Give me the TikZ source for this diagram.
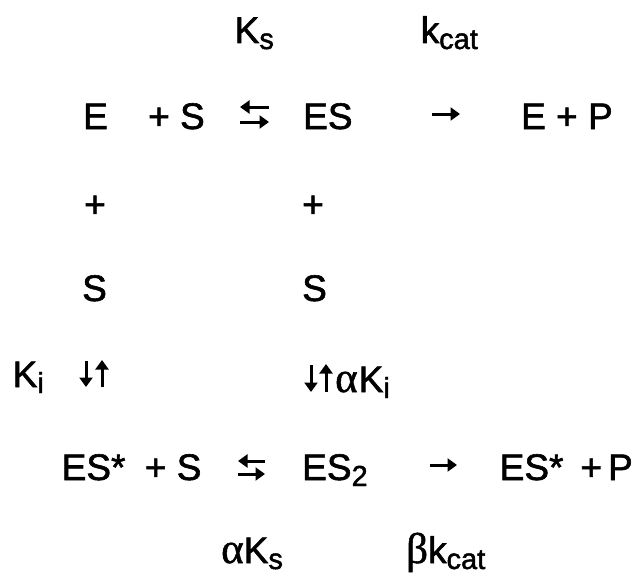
\documentclass[tikz,border=0pt]{standalone}
\usepackage{fontspec}
\setmainfont{Liberation Sans}[FakeBold=1.6]
\newfontfamily\grk{Liberation Serif}[FakeBold=1.2]
\usetikzlibrary{arrows.meta}
\newcommand\sbs[1]{\raisebox{-6pt}{\fontsize{29}{29}\selectfont #1}}
\newcommand\gk[1]{{\fontsize{43}{43}\grk #1}}
\begin{document}
\begin{tikzpicture}[x=1pt,y=-1pt,
  t/.style={anchor=base west, inner sep=0pt, font=\fontsize{37}{44}\selectfont},
  arr/.style={line width=3pt, -{Triangle[length=9.5pt,width=13pt]}}]
\useasboundingbox (0,0) rectangle (636,578);
% rate constants
\node[t] (ks) at (234.5,43) {K\sbs{s}};
\node[t] (kcat) at (420.5,43) {k\sbs{cat}};
% row 1
\node[t] (e1) at (83,129) {E};
\node[t] (s1) at (148,129) {+ S};
\node[t] (es1) at (303,129) {ES};
\node[t] (ep) at (521,129) {E + P};
% vertical
\node[t] (p1) at (84,217) {+};
\node[t] (p2) at (302,217) {+};
\node[t] (sa) at (82,301) {S};
\node[t] (sb) at (302,301) {S};
\node[t] (ki) at (12.5,387) {K\sbs{i}};
\node[t] (aki) at (335,392) {\gk{α}\hspace{1pt}K\sbs{i}};
% row 2
\node[t] (esx) at (61.5,480) {ES*};
\node[t] (s5) at (144.7,480) {+ S};
\node[t] (es2) at (302,480) {ES\sbs{2}};
\node[t] (esp) at (499.5,480) {ES*\hspace{17pt}+\hspace{6pt}P};
\node[t] (aks) at (221,563) {\gk{α}K\sbs{s}};
\node[t] (bk) at (406,563) {\gk{β}k\sbs{cat}};
% arrow end points
\coordinate (a1l) at (240,107); \coordinate (a1r) at (269,107);
\coordinate (b1l) at (240,122); \coordinate (b1r) at (269,122);
\coordinate (c1l) at (432,114); \coordinate (c1r) at (460,114);
\coordinate (d1t) at (86,361);  \coordinate (d1b) at (86,387);
\coordinate (u1t) at (102,360); \coordinate (u1b) at (102,387);
\coordinate (d2t) at (311,365); \coordinate (d2b) at (311,392);
\coordinate (u2t) at (326,364); \coordinate (u2b) at (326,392);
\coordinate (a5l) at (238,461); \coordinate (a5r) at (265,461);
\coordinate (b5l) at (238,474); \coordinate (b5r) at (265,474);
\coordinate (c5l) at (430,465); \coordinate (c5r) at (457,465);
% arrows
\draw[arr] (a1r) -- (a1l);
\draw[arr] (b1l) -- (b1r);
\draw[arr] (c1l) -- (c1r);
\draw[arr] (d1t) -- (d1b);
\draw[arr] (u1b) -- (u1t);
\draw[arr] (d2t) -- (d2b);
\draw[arr] (u2b) -- (u2t);
\draw[arr] (a5r) -- (a5l);
\draw[arr] (b5l) -- (b5r);
\draw[arr] (c5l) -- (c5r);
\end{tikzpicture}
\end{document}
